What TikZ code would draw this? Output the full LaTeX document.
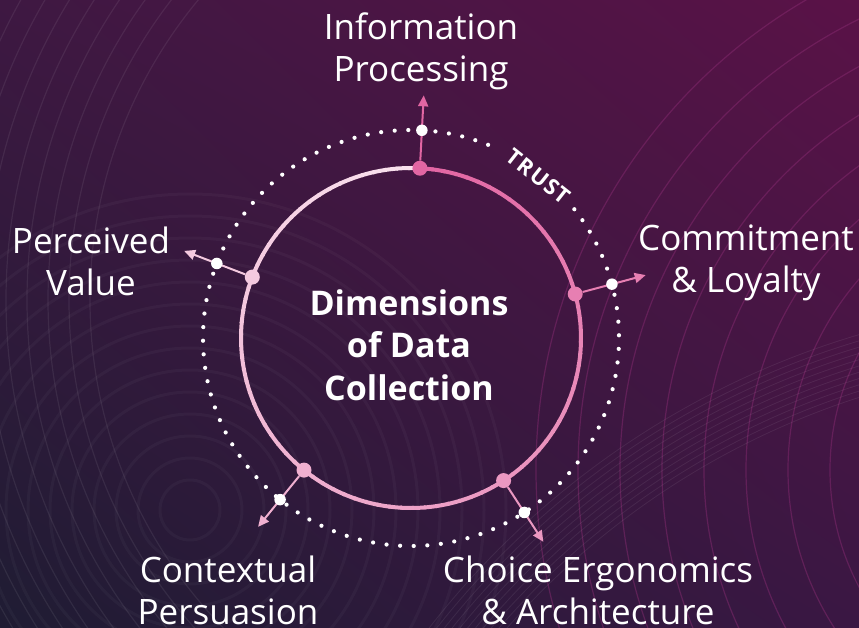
\documentclass[tikz,border=0pt]{standalone}
\usepackage{fontspec}
\setmainfont{Open Sans}
\usetikzlibrary{arrows.meta,calc,shadings}

\definecolor{bgTL}{HTML}{3E1842}
\definecolor{bgTR}{HTML}{5A1247}
\definecolor{bgBL}{HTML}{1F1C33}
\definecolor{bgBR}{HTML}{3A1743}
\definecolor{ringdeep}{HTML}{E266A3}
\definecolor{ringpale}{HTML}{F9E2EE}
\definecolor{arcmagenta}{HTML}{8C2C74}

\begin{document}
\begin{tikzpicture}[x=1pt,y=-1pt,
  dimlabel/.style={text=white, font=\fontsize{35}{42}\selectfont, align=center, inner sep=0pt},
  core/.style={text=white, font=\bfseries\fontsize{34}{42.5}\selectfont, align=center, inner sep=0pt},
  hub/.style={circle, inner sep=0pt, minimum size=15pt},
  knot/.style={circle, fill=white, inner sep=0pt, minimum size=11.5pt},
  spoke/.style={line width=2pt, -{Triangle[length=11pt,width=10pt]}},
  trustword/.style={text=white, font=\bfseries\fontsize{22}{22}\selectfont\addfontfeature{LetterSpace=6}, inner sep=0pt},
  ripple/.style={line width=1.2pt, white, opacity=0.05}
]
\useasboundingbox (0,0) rectangle (859,628);

% backdrop
\shade[upper left=bgTL, upper right=bgTR, lower left=bgBL, lower right=bgBR]
  (0,0) rectangle (859,628);

% faint concentric ripples
\begin{scope}
  \clip (0,0) rectangle (859,628);
  \foreach \r in {470,491,...,660} \draw[ripple, opacity=0.07] (560,300) circle[radius=\r];
  \foreach \r in {30,52,...,320} \draw[ripple, line width=3pt, opacity=0.03] (190,510) circle[radius=\r];
  \foreach \r in {250,292,...,560} \draw[arcmagenta, line width=1.2pt, opacity=0.45] (1080,470) circle[radius=\r];
  \foreach \r in {790,796,...,850} \draw[ripple, line width=0.8pt, opacity=0.07] (1100,1150) circle[radius=\r];
\end{scope}

% ring, trust circle and spokes
\begin{scope}[shift={(411,338)}, yscale=-1]
  % dotted trust circle, open where the word sits
  \foreach \k in {0,...,95}{
    \ifnum\k<84
      \fill[white] ({87+3.75*\k}:208) circle[radius=2.1];
    \else\ifnum\k>90
      \fill[white] ({87+3.75*\k}:208) circle[radius=2.1];
    \fi\fi
  }
  % TRUST set on the gap of the dotted circle
  \node[trustword, rotate=-38.3] (trust) at (51.7:206) {TRUST};
  % main ring with a clockwise colour sweep
  \foreach \i in {0,...,89}{
    \pgfmathtruncatemacro\p{round(100*\i/89)}
    \colorlet{segc}{ringpale!\p!ringdeep}
    \draw[segc, line width=4pt] ({87-4*\i}:170)
      arc[start angle={87-4*\i}, end angle={87-4*\i-4.6}, radius=170];
  }
  % hubs on the ring, arrows outward through the trust circle
  \foreach \i/\nm in {0/a,1/b,2/c,3/d,4/e}{
    \pgfmathsetmacro\th{87-72*\i}
    \pgfmathtruncatemacro\p{20*\i}
    \colorlet{spk}{ringpale!\p!ringdeep}
    \node[hub, fill=spk] (h\nm) at (\th:170) {};
    \coordinate (t\nm) at (\th:243);
    \draw[spoke, spk] (h\nm) -- (t\nm);
    \node[knot] (k\nm) at (\th:208) {};
  }
\end{scope}

% labels
\node[core] (title) at (409,345) {Dimensions\\of Data\\Collection};
\node[dimlabel] (info) at (421,51) {Information\\Processing};
\node[dimlabel] (commit) at (746,263) {Commitment\\\& Loyalty};
\node[dimlabel] (value) at (91,261) {Perceived\\Value};
\node[dimlabel] (context) at (228,590) {Contextual\\Persuasion};
\node[dimlabel] (choice) at (598,590) {Choice Ergonomics\\\& Architecture};
\end{tikzpicture}
\end{document}
